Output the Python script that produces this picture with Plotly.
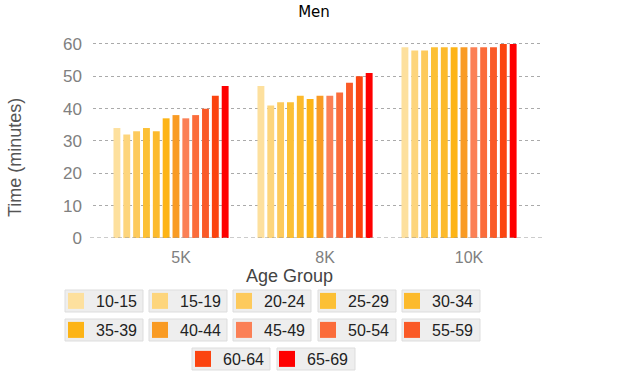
import plotly.graph_objects as go

races = ["5K", "8K", "10K"]
age_groups = ["10-15", "15-19", "20-24", "25-29", "30-34", "35-39",
              "40-44", "45-49", "50-54", "55-59", "60-64", "65-69"]
times_5k = [34, 32, 33, 34, 33, 37, 38, 37, 38, 40, 44, 47]
times_8k = [47, 41, 42, 42, 44, 43, 44, 44, 45, 48, 50, 51]
times_10k = [59, 58, 58, 59, 59, 59, 59, 59, 59, 59, 60, 60]
colors = ["#FDE09E", "#FDD57C", "#FDCA5C", "#FCC035", "#FCBA2C", "#FDB416",
          "#F99B24", "#FB8056", "#FB6C3A", "#FA5A27", "#FB4410", "#FE0000"]

L, R, T, B = 93, 97, 42, 134
W, H = 640, 372
PW, PH = W - L - R, H - T - B

fig = go.Figure()
series = list(zip(times_5k, times_8k, times_10k))
for i, ag in enumerate(age_groups):
    fig.add_trace(go.Bar(x=races, y=list(series[i]), name=ag,
                         marker=dict(color=colors[i], line=dict(width=0)),
                         showlegend=False))

# legend rows
row_of = [1] * 5 + [2] * 5 + [3] * 2
legend_names = {1: "legend", 2: "legend2", 3: "legend3"}
for i, ag in enumerate(age_groups):
    fig.add_trace(go.Scatter(x=[None], y=[None], mode="markers", name=ag,
                             marker=dict(symbol="square", size=16, color=colors[i]),
                             legend=legend_names[row_of[i]], showlegend=True))

# grey legend boxes (pixel positions)
box_rows = [
    (290, [65, 149, 233, 318, 402]),
    (319, [65, 149, 233, 318, 402]),
    (348, [192, 277]),
]
shapes = []
for top, xs in box_rows:
    for x0 in xs:
        shapes.append(dict(type="rect", xref="paper", yref="paper",
                           xsizemode="pixel", ysizemode="pixel",
                           xanchor=0, yanchor=0,
                           x0=x0 - L, x1=x0 - L + 78,
                           y0=-(top - (T + PH)), y1=-(top + 22 - (T + PH)),
                           fillcolor="#EEEEEE", line=dict(color="#DDDDDD", width=1),
                           layer="below"))
# dashed baseline
shapes.append(dict(type="line", xref="paper", yref="y", x0=-3 / PW, x1=1, y0=0, y1=0,
                   line=dict(color="#999999", width=1, dash="4px,3px"), layer="above"))

def leg(x_px, y_px):
    return dict(orientation="h", x=(x_px - 9 - L) / PW, xanchor="left",
                y=(T + PH - (y_px - 6)) / PH, yanchor="top",
                bgcolor="rgba(0,0,0,0)", entrywidth=39, entrywidthmode="pixels",
                font=dict(family="Liberation Sans, Arial", size=16, color="#222222"),
                itemsizing="trace", tracegroupgap=0)

fig.update_layout(
    width=W, height=H,
    margin=dict(l=L, r=R, t=T, b=B, autoexpand=False),
    paper_bgcolor="white", plot_bgcolor="white",
    barmode="group", bargap=0.18, bargroupgap=0.3,
    title=dict(text="Men", x=314 / W, xanchor="center", y=1 - 12 / H, yanchor="middle",
               font=dict(family="DejaVu Sans", size=15, color="#000000")),
    xaxis=dict(range=[-0.542, 2.583], showgrid=False, zeroline=False, showline=False,
               ticks="", tickfont=dict(family="Liberation Sans, Arial", size=16, color="#808080"),
               ticklabelstandoff=8, ticklabelshift=10),
    yaxis=dict(range=[0, 60.6], tickvals=[10, 20, 30, 40, 50, 60, 0],
               showgrid=True, gridcolor="#AAAAAA", griddash="3px,3px", gridwidth=1,
               zeroline=False,
               showline=False, ticks="",
               tickfont=dict(family="Liberation Sans, Arial", size=17, color="#808080"),
               ticklabelstandoff=10),
    legend=leg(65, 290),
    legend2=leg(65, 319),
    legend3=leg(192, 348),
    shapes=shapes,
    annotations=[
        dict(text="Age Group", xref="paper", yref="paper",
             x=(289 - L) / PW, y=(T + PH - 276) / PH, xanchor="center", yanchor="middle",
             showarrow=False,
             font=dict(family="Liberation Sans, Arial", size=18, color="#444444")),
        dict(text="Time (minutes)", xref="paper", yref="paper", textangle=-90,
             x=(15 - L) / PW, y=(T + PH - 158) / PH, xanchor="center", yanchor="middle",
             showarrow=False,
             font=dict(family="Liberation Sans, Arial", size=18, color="#555555")),
    ],
)

fig.write_html("out.html", config={"displayModeBar": False},
               post_script="document.body.style.margin='0';document.body.style.overflow='hidden';")
